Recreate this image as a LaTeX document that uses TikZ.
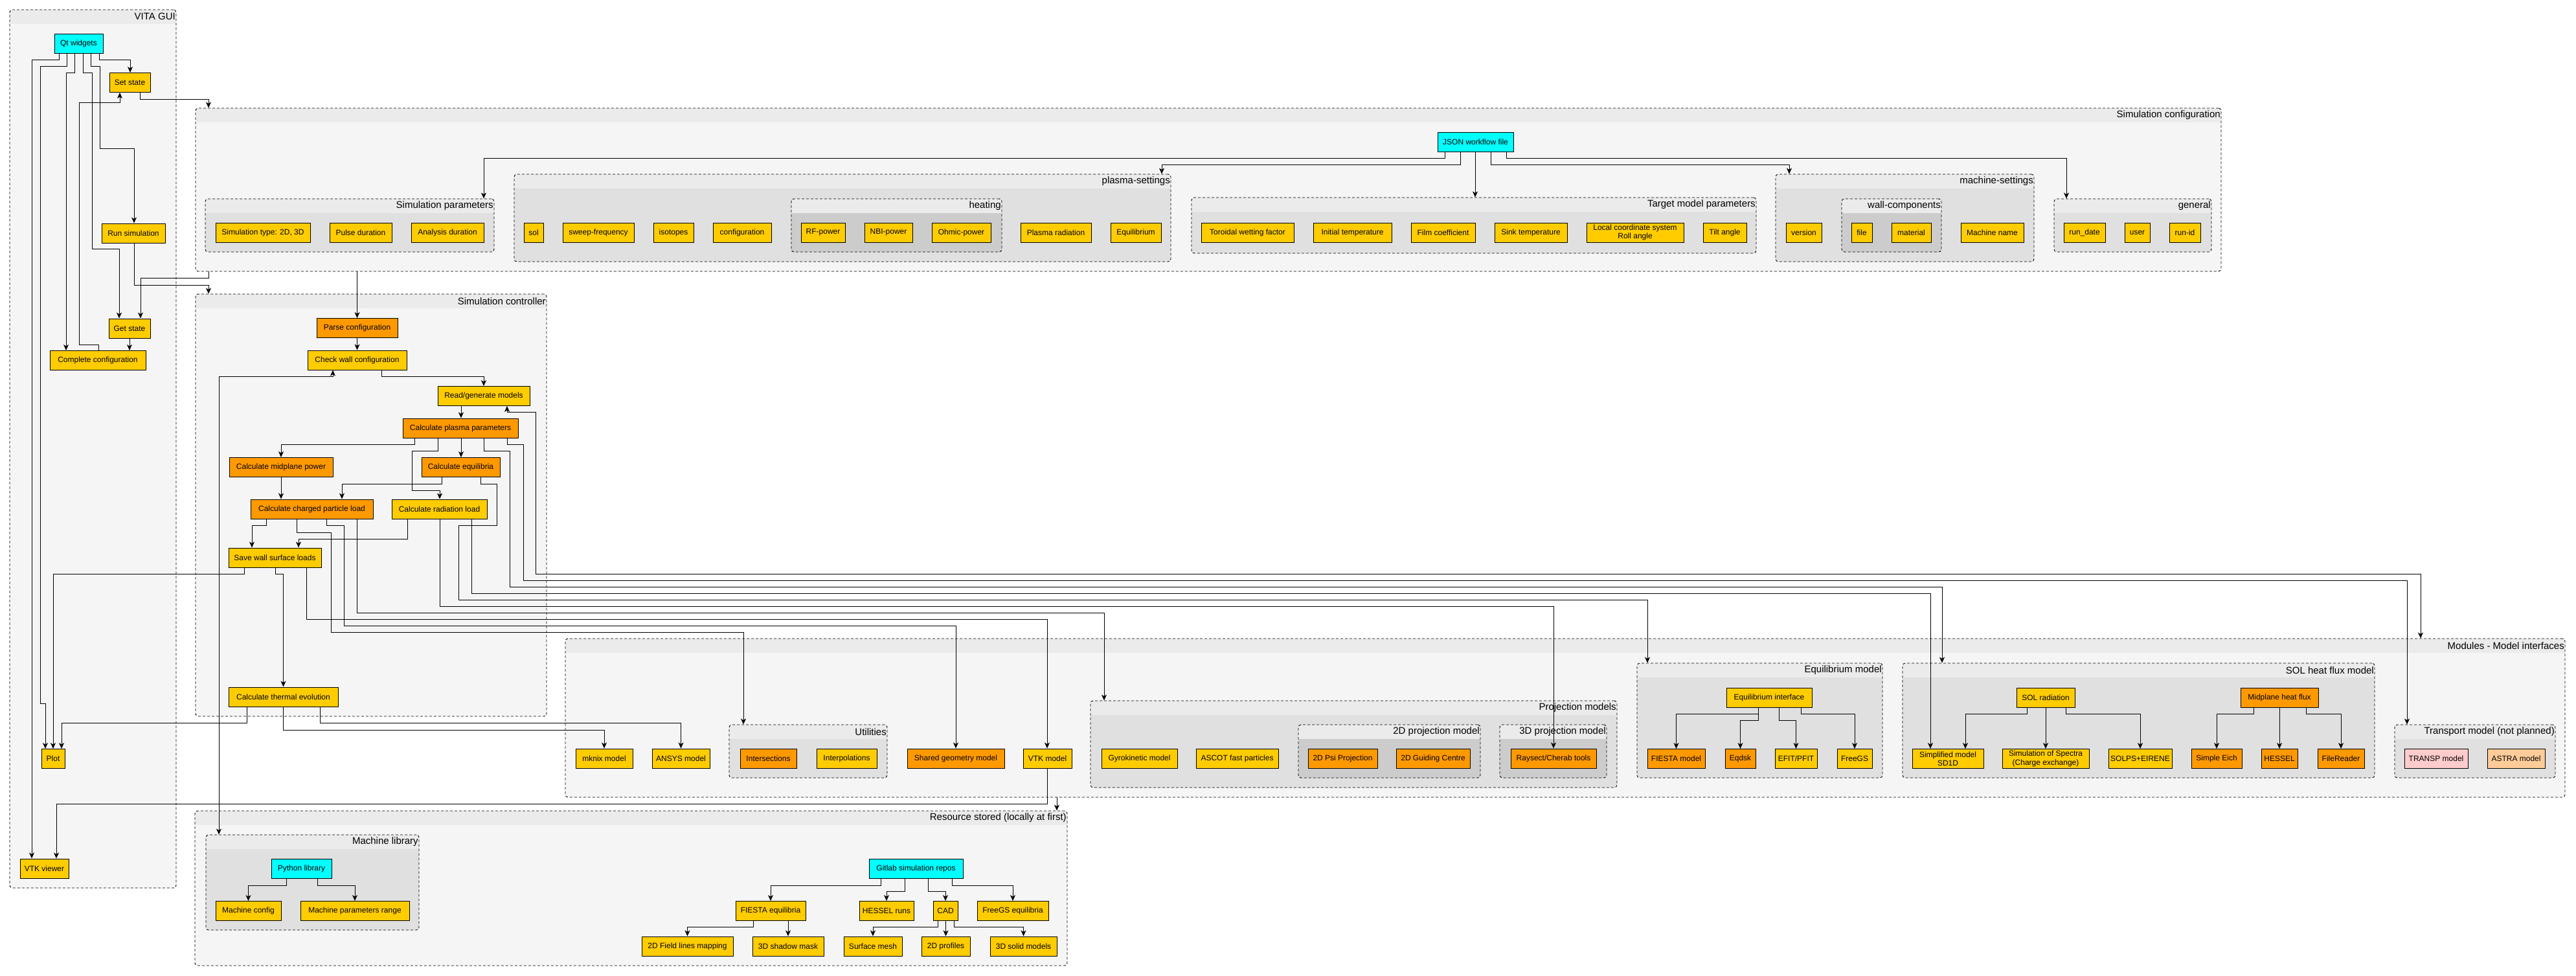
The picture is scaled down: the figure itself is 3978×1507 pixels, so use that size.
\documentclass[tikz,border=0pt]{standalone}
\usepackage{fontspec}
\setmainfont{Liberation Sans}
\usetikzlibrary{positioning,arrows.meta,calc}
\definecolor{ylw}{HTML}{FFCC00}
\definecolor{org}{HTML}{FF9900}
\definecolor{cyn}{HTML}{00FFFF}
\definecolor{pnk}{HTML}{FFCCCC}
\definecolor{pch}{HTML}{FFCC99}
\definecolor{bga}{HTML}{F5F5F5}
\definecolor{bgb}{HTML}{E0E0E0}
\definecolor{bgc}{HTML}{CCCCCC}
\definecolor{hdr}{HTML}{EBEBEB}

\begin{document}
\begin{tikzpicture}[x=1pt,y=-1pt,
  box/.style={rectangle,draw,line width=1pt,inner sep=1pt,minimum height=30,align=center,font=\fontsize{12}{13.5}\selectfont},
  yb/.style={box,fill=ylw},
  ob/.style={box,fill=org},
  cb/.style={box,fill=cyn},
  pb/.style={box,fill=pnk},
  ab/.style={box,fill=pch},
  lane/.style={rectangle,draw,line width=0.9pt,dash pattern=on 4pt off 3pt,rounded corners=4pt,inner sep=0,fill=#1,
    path picture={\fill[hdr,sharp corners] (path picture bounding box.north west) rectangle ([yshift=-22pt]path picture bounding box.north east);}},
  ttl/.style={anchor=north east,inner xsep=1.5pt,inner ysep=0,minimum height=22,font=\fontsize{15}{18}\selectfont},
  arr/.style={draw,line width=0.9pt,-{Stealth[length=9pt,width=8pt,inset=2.5pt]}},
  darr/.style={draw,line width=0.9pt,{Stealth[length=9pt,width=8pt,inset=2.5pt]}-{Stealth[length=9pt,width=8pt,inset=2.5pt]}}]

  \useasboundingbox (0,0) rectangle (3978,1507);

  \node[lane=bga, minimum width=257, minimum height=1356, label={[ttl]north east:{VITA GUI}}] (gui) at (143.5,693) {};
  \node[lane=bga, minimum width=3128, minimum height=252, label={[ttl]north east:{Simulation configuration}}] (simcfg) at (1866,293) {};
  \node[lane=bga, minimum width=542, minimum height=652, label={[ttl]north east:{Simulation controller}}] (simctl) at (573,780) {};
  \node[lane=bga, minimum width=3088, minimum height=245, label={[ttl]north east:{Modules - Model interfaces}}] (modules) at (2417,1108.5) {};
  \node[lane=bga, minimum width=1347, minimum height=239, label={[ttl]north east:{Resource stored (locally at first)}}] (resource) at (974.5,1371.5) {};

  \node[lane=bgb, minimum width=446, minimum height=82, label={[ttl]north east:{Simulation parameters}}] (simpar) at (540,348) {};
  \node[lane=bgb, minimum width=1014, minimum height=135, label={[ttl]north east:{plasma-settings}}] (plasma) at (1301,336.5) {};
  \node[lane=bgc, minimum width=325, minimum height=82, label={[ttl]north east:{heating}}] (heating) at (1384.5,348) {};
  \node[lane=bgb, minimum width=872, minimum height=86, label={[ttl]north east:{Target model parameters}}] (target) at (2276,348) {};
  \node[lane=bgb, minimum width=399, minimum height=135, label={[ttl]north east:{machine-settings}}] (machine) at (2941.5,336.5) {};
  \node[lane=bgc, minimum width=154, minimum height=82, label={[ttl]north east:{wall-components}}] (wall) at (2921,348) {};
  \node[lane=bgb, minimum width=243, minimum height=82, label={[ttl]north east:{general}}] (general) at (3293.5,348) {};

  \node[lane=bgb, minimum width=244, minimum height=82, label={[ttl]north east:{Utilities}}] (util) at (1248,1160) {};
  \node[lane=bgb, minimum width=813, minimum height=134, label={[ttl]north east:{Projection models}}] (projm) at (2090.5,1149) {};
  \node[lane=bgc, minimum width=281, minimum height=82, label={[ttl]north east:{2D projection model}}] (proj2d) at (2145.5,1160) {};
  \node[lane=bgc, minimum width=165, minimum height=82, label={[ttl]north east:{3D projection model}}] (proj3d) at (2398.5,1160) {};
  \node[lane=bgb, minimum width=379, minimum height=177, label={[ttl]north east:{Equilibrium model}}] (eqmod) at (2717.5,1112.5) {};
  \node[lane=bgb, minimum width=729, minimum height=177, label={[ttl]north east:{SOL heat flux model}}] (solhf) at (3302.5,1112.5) {};
  \node[lane=bgb, minimum width=248, minimum height=82, label={[ttl]north east:{Transport model (not planned)}}] (transp) at (3822,1160) {};
  \node[lane=bgb, minimum width=329, minimum height=147, label={[ttl]north east:{Machine library}}] (machlib) at (482.5,1362.5) {};

  \node[cb, minimum width=75] (qt) at (121.5,67) {Qt widgets};
  \node[yb, minimum width=63] (setst) at (200.5,127.5) {Set state};
  \node[yb, minimum width=98] (runsim) at (206,360) {Run simulation};
  \node[yb, minimum width=64] (getst) at (200,507) {Get state};
  \node[yb, minimum width=148] (complete) at (151,556.5) {Complete configuration};
  \node[yb, minimum width=36] (plot) at (82,1171.5) {Plot};
  \node[yb, minimum width=75] (vtkv) at (68.5,1341) {VTK viewer};

  \node[cb, minimum width=117] (json) at (2278.5,219) {JSON workflow file};
  \node[yb, minimum width=146] (simtype) at (406,359) {Simulation type: 2D, 3D};
  \node[yb, minimum width=96] (pulse) at (557,359) {Pulse duration};
  \node[yb, minimum width=112] (analysis) at (691,359) {Analysis duration};
  \node[yb, minimum width=30] (sol) at (824,359) {sol};
  \node[yb, minimum width=110] (sweep) at (924,359) {sweep-frequency};
  \node[yb, minimum width=62] (isotopes) at (1040,359) {isotopes};
  \node[yb, minimum width=90] (configuration) at (1146,359) {configuration};
  \node[yb, minimum width=68] (rfpow) at (1271,359) {RF-power};
  \node[yb, minimum width=74] (nbipow) at (1372,359) {NBI-power};
  \node[yb, minimum width=91] (ohmpow) at (1484.5,359) {Ohmic-power};
  \node[yb, minimum width=109] (plrad) at (1630.5,359) {Plasma radiation};
  \node[yb, minimum width=78] (equil) at (1754,359) {Equilibrium};
  \node[yb, minimum width=143] (wetting) at (1926.5,359) {Toroidal wetting factor};
  \node[yb, minimum width=121] (inittemp) at (2088.5,359) {Initial temperature};
  \node[yb, minimum width=99] (film) at (2228.5,359) {Film coefficient};
  \node[yb, minimum width=112] (sink) at (2364,359) {Sink temperature};
  \node[yb, minimum width=150] (localcs) at (2525,359) {Local coordinate system\\Roll angle};
  \node[yb, minimum width=67] (tilt) at (2663.5,359) {Tilt angle};
  \node[yb, minimum width=55] (version) at (2785.5,359) {version};
  \node[yb, minimum width=32] (file) at (2875,359) {file};
  \node[yb, minimum width=61] (material) at (2951.5,359) {material};
  \node[yb, minimum width=97] (mname) at (3076.5,359) {Machine name};
  \node[yb, minimum width=64] (rundate) at (3219,359) {run\_date};
  \node[yb, minimum width=39] (user) at (3300.5,359) {user};
  \node[yb, minimum width=48] (runid) at (3374,359) {run-id};

  \node[ob, minimum width=125] (parse) at (551.5,506.5) {Parse configuration};
  \node[yb, minimum width=153] (check) at (551.5,556) {Check wall configuration};
  \node[yb, minimum width=142] (readgen) at (747,611.5) {Read/generate models};
  \node[ob, minimum width=178] (calcpl) at (711,661) {Calculate plasma parameters};
  \node[ob, minimum width=160] (midpl) at (434,721.5) {Calculate midplane power};
  \node[ob, minimum width=121] (calceq) at (711.5,721.5) {Calculate equilibria};
  \node[ob, minimum width=189] (charged) at (481.5,786) {Calculate charged particle load};
  \node[yb, minimum width=147] (radld) at (678.5,786) {Calculate radiation load};
  \node[yb, minimum width=143] (save) at (424.5,861) {Save wall surface loads};
  \node[yb, minimum width=169] (thermal) at (437.5,1076) {Calculate thermal evolution};

  \node[yb, minimum width=88] (mknix) at (933,1171) {mknix model};
  \node[yb, minimum width=89] (ansys) at (1051.5,1171) {ANSYS model};
  \node[ob, minimum width=87] (inters) at (1186.5,1171) {Intersections};
  \node[yb, minimum width=93] (interp) at (1307.5,1171) {Interpolations};
  \node[ob, minimum width=150] (shared) at (1476,1171) {Shared geometry model};
  \node[yb, minimum width=75] (vtkm) at (1617.5,1171) {VTK model};
  \node[yb, minimum width=117] (gyro) at (1759.5,1171) {Gyrokinetic model};
  \node[yb, minimum width=127] (ascot) at (1910.5,1171) {ASCOT fast particles};
  \node[ob, minimum width=107] (psiproj) at (2073.5,1171) {2D Psi Projection};
  \node[ob, minimum width=114] (guiding) at (2213,1171) {2D Guiding Centre};
  \node[ob, minimum width=132] (raysect) at (2399,1171) {Raysect/Cherab tools};
  \node[yb, minimum width=132] (eqif) at (2732,1077) {Equilibrium interface};
  \node[ob, minimum width=89] (fiesta) at (2588.5,1171.5) {FIESTA model};
  \node[ob, minimum width=47] (eqdsk) at (2687.5,1171.5) {Eqdsk};
  \node[yb, minimum width=65] (efit) at (2773.5,1171.5) {EFIT/PFIT};
  \node[yb, minimum width=54] (freegs) at (2864,1171.5) {FreeGS};
  \node[yb, minimum width=90] (solrad) at (3159,1077) {SOL radiation};
  \node[ob, minimum width=120] (midhf) at (3520,1077) {Midplane heat flux};
  \node[yb, minimum width=110] (sd1d) at (3008,1171.5) {Simplified model\\SD1D};
  \node[yb, minimum width=134] (spectra) at (3159,1171.5) {Simulation of Spectra\\(Charge exchange)};
  \node[yb, minimum width=98] (solps) at (3305,1171.5) {SOLPS+EIRENE};
  \node[ob, minimum width=78] (eich) at (3423,1171.5) {Simple Eich};
  \node[ob, minimum width=56] (hessel) at (3520,1171.5) {HESSEL};
  \node[ob, minimum width=72] (filer) at (3615,1171.5) {FileReader};
  \node[pb, minimum width=98] (transpm) at (3762,1171.5) {TRANSP model};
  \node[ab, minimum width=89] (astra) at (3885.5,1171.5) {ASTRA model};

  \node[cb, minimum width=93] (pylib) at (465.5,1341.5) {Python library};
  \node[yb, minimum width=101] (mconf) at (383.5,1406.5) {Machine config};
  \node[yb, minimum width=168] (mrange) at (548,1406.5) {Machine parameters range};
  \node[cb, minimum width=145] (gitlab) at (1414.5,1341.5) {Gitlab simulation repos};
  \node[yb, minimum width=108] (fiestaeq) at (1190,1406.5) {FIESTA equilibria};
  \node[yb, minimum width=84] (hesruns) at (1369,1406.5) {HESSEL runs};
  \node[yb, minimum width=38] (cad) at (1460,1406.5) {CAD};
  \node[yb, minimum width=110] (freegseq) at (1564,1406.5) {FreeGS equilibria};
  \node[yb, minimum width=141] (fieldmap) at (1061.5,1461) {2D Field lines mapping};
  \node[yb, minimum width=110] (shadow) at (1217,1461) {3D shadow mask};
  \node[yb, minimum width=90] (mesh) at (1348,1461) {Surface mesh};
  \node[yb, minimum width=75] (profiles) at (1460.5,1461) {2D profiles};
  \node[yb, minimum width=103] (solid) at (1580.5,1461) {3D solid models};

  \draw[arr] (qt.south -| 91,0) |- (49,92) -- (vtkv.north -| 49,0);
  \draw[arr] (qt.south -| 103,0) |- (62,102) |- (70,1086) -- (plot.north -| 70,0);
  \draw[arr] (qt.south -| 115,0) |- (102,112) -- (complete.north -| 102,0);
  \draw[arr] (qt.south -| 128,0) |- (142,112) |- (184,384) -- (getst.north -| 184,0);
  \draw[arr] (qt.south -| 140,0) |- (154,102) |- (207,229) -- (runsim.north -| 207,0);
  \draw[arr] (qt.south -| 153,0) |- (201,92) -- (setst.north -| 201,0);
  \draw[arr] (complete.north -| 152,0) |- (122,532) |- (185,158) -- (setst.south -| 185,0);
  \draw[arr] (getst.south) -- (getst.south |- complete.north);
  \draw[arr] (setst.south -| 216,0) |- (322,153) -- (simcfg.north -| 322,0);
  \draw[arr] (simcfg.south -| 322,0) |- (217,429) -- (getst.north -| 217,0);
  \draw[arr] (runsim.south -| 207,0) |- (322,440) -- (simctl.north -| 322,0);
  \draw[arr] (simcfg.south -| parse.north) -- (parse.north);

  \draw[arr] (json.south -| 2231,0) |- (747,244) -- (simpar.north -| 747,0);
  \draw[arr] (json.south -| 2255,0) |- (1794,254) -- (plasma.north -| 1794,0);
  \draw[arr] (json.south -| 2278,0) -- (target.north -| 2278,0);
  \draw[arr] (json.south -| 2302,0) |- (2763,254) -- (machine.north -| 2763,0);
  \draw[arr] (json.south -| 2326,0) |- (3191,244) -- (general.north -| 3191,0);

  \draw[arr] (parse.south) -- (check.north);
  \draw[arr] (check.south -| 589,0) |- (747,581) -- (readgen.north);
  \draw[darr] (check.south -| 514,0) |- (338,581) -- (machlib.north -| 338,0);
  \draw[arr] (readgen.south -| 712,0) -- (calcpl.north -| 712,0);
  \draw[darr] (readgen.south -| 783,0) |- (827,636) |- (3738,886) -- (modules.north -| 3738,0);
  \draw[arr] (calcpl.south -| 640,0) |- (434,686) -- (midpl.north);
  \draw[arr] (calcpl.south -| 676,0) |- (636,696) |- (679,757) -- (radld.north -| 679,0);
  \draw[arr] (calcpl.south -| 712,0) -- (calceq.north -| 712,0);
  \draw[arr] (calcpl.south -| 747,0) |- (787,696) |- (2999,906) -- (solhf.north -| 2999,0);
  \draw[arr] (calcpl.south -| 783,0) |- (808,686) |- (3717,896) -- (transp.north -| 3717,0);
  \draw[arr] (midpl.south) -- (charged.north -| midpl.south);
  \draw[arr] (calceq.south -| 682,0) |- (528,747) -- (charged.north -| 528,0);
  \draw[arr] (calceq.south -| 742,0) |- (767,747) |- (708,811) |- (2544,926) -- (eqmod.north -| 2544,0);
  \draw[arr] (charged.south -| 411,0) |- (389,811) -- (save.north -| 389,0);
  \draw[arr] (charged.south -| 458,0) |- (511,822) |- (1148,976) -- (util.north -| 1148,0);
  \draw[arr] (charged.south -| 504,0) |- (531,811) |- (1476,966) -- (shared.north);
  \draw[arr] (charged.south -| 551,0) |- (1705,946) -- (projm.north -| 1705,0);
  \draw[arr] (radld.south -| 629,0) |- (461,832) -- (save.north -| 461,0);
  \draw[arr] (radld.south -| 679,0) |- (2399,936) -- (raysect.north);
  \draw[arr] (radld.south -| 728,0) |- (2981,916) -- (sd1d.north -| 2981,0);
  \draw[arr] (save.south -| 377,0) |- (82,886) -- (plot.north);
  \draw[arr] (save.south -| 425,0) |- (437.5,886) -- (thermal.north);
  \draw[arr] (save.south -| 473,0) |- (1617,956) -- (vtkm.north -| 1617,0);
  \draw[arr] (thermal.south -| 381,0) |- (95,1116) -- (plot.north -| 95,0);
  \draw[arr] (thermal.south) |- (933,1127) -- (mknix.north);
  \draw[arr] (thermal.south -| 494,0) |- (1051.5,1116) -- (ansys.north);
  \draw[arr] (vtkm.south -| 1617,0) |- (87,1241) -- (vtkv.north -| 87,0);
  \draw[arr] (modules.south -| 1632,0) -- (resource.north -| 1632,0);

  \draw[arr] (eqif.south -| 2715,0) |- (2588.5,1102) -- (fiesta.north);
  \draw[arr] (eqif.south -| 2715,0) |- (2687.5,1112) -- (eqdsk.north);
  \draw[arr] (eqif.south -| 2747,0) |- (2773.5,1112) -- (efit.north);
  \draw[arr] (eqif.south -| 2781,0) |- (2864,1102) -- (freegs.north);
  \draw[arr] (solrad.south -| 3130,0) |- (3035,1102) -- (sd1d.north -| 3035,0);
  \draw[arr] (solrad.south) -- (spectra.north);
  \draw[arr] (solrad.south -| 3190,0) |- (3305,1102) -- (solps.north);
  \draw[arr] (midhf.south -| 3480,0) |- (3423,1102) -- (eich.north);
  \draw[arr] (midhf.south) -- (hessel.north);
  \draw[arr] (midhf.south -| 3561,0) |- (3615,1102) -- (filer.north);

  \draw[arr] (pylib.south -| 442,0) |- (383.5,1367) -- (mconf.north);
  \draw[arr] (pylib.south -| 490,0) |- (548,1367) -- (mrange.north);
  \draw[arr] (gitlab.south -| 1360,0) |- (1190,1367) -- (fiestaeq.north);
  \draw[arr] (gitlab.south -| 1397,0) |- (1369,1376) -- (hesruns.north);
  \draw[arr] (gitlab.south -| 1433,0) |- (1460,1376) -- (cad.north);
  \draw[arr] (gitlab.south -| 1470,0) |- (1564,1367) -- (freegseq.north);
  \draw[arr] (fiestaeq.south -| 1163,0) |- (1061.5,1431) -- (fieldmap.north);
  \draw[arr] (fiestaeq.south -| 1217,0) -- (shadow.north);
  \draw[arr] (cad.south -| 1448,0) |- (1348,1431) -- (mesh.north);
  \draw[arr] (cad.south -| 1460.5,0) -- (profiles.north);
  \draw[arr] (cad.south -| 1473,0) |- (1580.5,1431) -- (solid.north);

\end{tikzpicture}
\end{document}
